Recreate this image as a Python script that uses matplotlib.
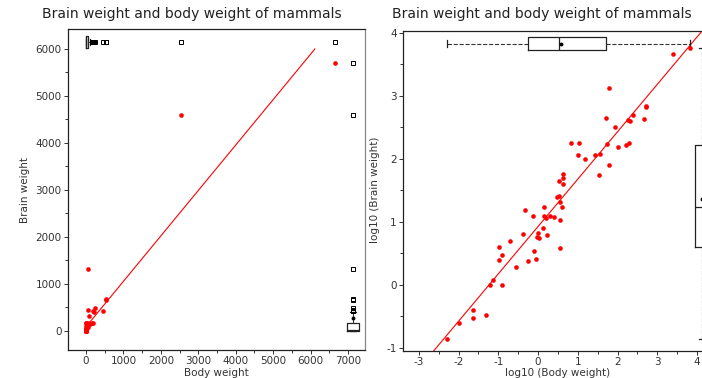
import numpy as np
import matplotlib
matplotlib.use("Agg")
import matplotlib.pyplot as plt
from matplotlib.ticker import MultipleLocator

plt.rcParams["font.family"] = ["DejaVu Sans"]
plt.rcParams["axes.unicode_minus"] = False

# Mammal body weight (kg) and brain weight (g), 62 species
species = [
    "Arctic fox", "Owl monkey", "Mountain beaver", "Cow", "Grey wolf", "Goat",
    "Roe deer", "Guinea pig", "Verbet", "Chinchilla", "Ground squirrel",
    "Arctic ground squirrel", "African giant pouched rat",
    "Lesser short-tailed shrew", "Star-nosed mole", "Nine-banded armadillo",
    "Tree hyrax", "N.A. opossum", "Asian elephant", "Big brown bat", "Donkey",
    "Horse", "European hedgehog", "Patas monkey", "Cat", "Galago", "Genet",
    "Giraffe", "Gorilla", "Grey seal", "Rock hyrax-a", "Human",
    "African elephant", "Water opossum", "Rhesus monkey", "Kangaroo",
    "Yellow-bellied marmot", "Golden hamster", "Mouse", "Little brown bat",
    "Slow loris", "Okapi", "Rabbit", "Sheep", "Jaguar", "Chimpanzee", "Baboon",
    "Desert hedgehog", "Giant armadillo", "Rock hyrax-b", "Raccoon", "Rat",
    "E. American mole", "Mole rat", "Musk shrew", "Pig", "Echidna",
    "Brazilian tapir", "Tenrec", "Phalanger", "Tree shrew", "Red fox",
]
body = np.array([
    3.385, 0.480, 1.350, 465.0, 36.33, 27.66, 14.83, 1.040, 4.190, 0.425,
    0.101, 0.920, 1.000, 0.005, 0.060, 3.500, 2.000, 1.700, 2547.0, 0.023,
    187.1, 521.0, 0.785, 10.00, 3.300, 0.200, 1.410, 529.0, 207.0, 85.00,
    0.750, 62.00, 6654.0, 3.500, 6.800, 35.00, 4.050, 0.120, 0.023, 0.010,
    1.400, 250.0, 2.500, 55.50, 100.0, 52.16, 10.55, 0.550, 60.00, 3.600,
    4.288, 0.280, 0.075, 0.122, 0.048, 192.0, 3.000, 160.0, 0.900, 1.620,
    0.104, 4.235,
])
brain = np.array([
    44.50, 15.50, 8.10, 423.0, 119.5, 115.0, 98.20, 5.50, 58.00, 6.40,
    4.00, 5.70, 6.60, 0.14, 1.00, 10.80, 12.30, 6.30, 4603.0, 0.30,
    419.0, 655.0, 3.50, 115.0, 25.60, 5.00, 17.50, 680.0, 406.0, 325.0,
    12.30, 1320.0, 5712.0, 3.90, 179.0, 56.00, 17.00, 1.00, 0.40, 0.25,
    12.50, 490.0, 12.10, 175.0, 157.0, 440.0, 179.5, 2.40, 81.00, 21.00,
    39.20, 1.90, 1.20, 3.00, 0.33, 180.0, 25.00, 169.0, 2.60, 11.40,
    2.50, 50.40,
])

title = "Brain weight and body weight of mammals"
RED = "#ff0000"
W, H = 702, 378
FS = 7.5


def box_stats(v, coef=1.5):
    """Tukey hinges and whiskers, with the mean."""
    x = np.sort(v)
    n = len(x)
    n4 = np.floor((n + 3) / 2) / 2
    d = np.array([1, n4, (n + 1) / 2, n + 1 - n4, n]) - 1
    f = 0.5 * (x[np.floor(d).astype(int)] + x[np.ceil(d).astype(int)])
    iqr = f[3] - f[1]
    lo, hi = f[1] - coef * iqr, f[3] + coef * iqr
    inside = x[(x >= lo) & (x <= hi)]
    return dict(med=f[2], q1=f[1], q3=f[3], whislo=inside.min(),
                whishi=inside.max(), fliers=x[(x < lo) | (x > hi)],
                mean=v.mean())


def marginal_box(ax, values, pos, width, orientation, whisker_ls):
    ax.bxp([box_stats(values)], positions=[pos], widths=[width],
           capwidths=[width * 0.5], orientation=orientation,
           showmeans=True, patch_artist=False, manage_ticks=False,
           boxprops=dict(color="#222222", lw=0.9),
           whiskerprops=dict(color="#333333", lw=0.8, ls=whisker_ls),
           capprops=dict(color="#222222", lw=0.9),
           medianprops=dict(color="#222222", lw=0.9),
           meanprops=dict(marker="o", markersize=1.8, markerfacecolor="black",
                          markeredgecolor="black"),
           flierprops=dict(marker="s", markersize=2.6, markerfacecolor="none",
                           markeredgecolor="black", markeredgewidth=0.7))


def style_axes(ax):
    for s in ax.spines.values():
        s.set_linewidth(0.9)
        s.set_color("#222222")
    ax.spines["right"].set_color("#888888")
    ax.tick_params(which="both", direction="out", labelsize=FS,
                   labelcolor="#333333", color="#333333", pad=1.5)
    ax.tick_params(which="major", length=3.0, width=0.7)
    ax.tick_params(which="minor", length=2.2, width=0.7)


def place_labels(ax, xlab_px, ylab_px):
    ax.xaxis.set_label_coords(xlab_px[0] / W, 1 - xlab_px[1] / H,
                              transform=fig.transFigure)
    ax.yaxis.set_label_coords(ylab_px[0] / W, 1 - ylab_px[1] / H,
                              transform=fig.transFigure)
    ax.xaxis.label.set_va("center")
    ax.yaxis.label.set_va("center")


fig = plt.figure(figsize=(W / 100, H / 100), dpi=100)

# Raw scale panel
ax1 = fig.add_axes([0.0969, 0.0741, 0.4231, 0.8492])
ax1.scatter(body, brain, s=11, color=RED, zorder=3, linewidths=0)
slope, icpt = np.polyfit(body, brain, 1)
x_top = (6000 - icpt) / slope
xs = np.array([0.0, x_top])
ax1.plot(xs, icpt + slope * xs, color=RED, lw=0.8, zorder=2)
marginal_box(ax1, body, 6150, 255, "horizontal", "-")
marginal_box(ax1, brain, 7133, 320, "vertical", "-")
ax1.set_xlim(-481, 7454)
ax1.set_ylim(-404, 6425)
ax1.xaxis.set_major_locator(MultipleLocator(1000))
ax1.xaxis.set_minor_locator(MultipleLocator(500))
ax1.yaxis.set_major_locator(MultipleLocator(1000))
ax1.yaxis.set_minor_locator(MultipleLocator(500))
ax1.set_xlabel("Body weight", fontsize=FS, color="#333333")
ax1.set_ylabel("Brain weight", fontsize=FS, color="#333333")
style_axes(ax1)
place_labels(ax1, (216, 373), (25, 190))

# Log scale panel
lb, lr = np.log10(body), np.log10(brain)
ax2 = fig.add_axes([0.5741, 0.0714, 0.4459, 0.8466])
ax2.scatter(lb, lr, s=11, color=RED, zorder=3, linewidths=0)
s2, i2 = np.polyfit(lb, lr, 1)
ax2.axline((0, i2), slope=s2, color=RED, lw=0.8, zorder=2)
marginal_box(ax2, lb, 3.83, 0.21, "horizontal", "--")
marginal_box(ax2, lr, 4.13, 0.35, "vertical", "--")
ax2.set_xlim(-3.40, 4.48)
ax2.set_ylim(-1.05, 4.03)
ax2.xaxis.set_major_locator(MultipleLocator(1))
ax2.xaxis.set_minor_locator(MultipleLocator(0.5))
ax2.yaxis.set_major_locator(MultipleLocator(1))
ax2.yaxis.set_minor_locator(MultipleLocator(0.5))
ax2.set_xlabel("log10 (Body weight)", fontsize=FS, color="#333333")
ax2.set_ylabel("log10 (Brain weight)", fontsize=FS, color="#333333")
style_axes(ax2)
place_labels(ax2, (558, 373), (375, 190))

fig.text(192 / W, 1 - 14 / H, title, ha="center", va="center",
         fontsize=10, color="#222222")
fig.text(542 / W, 1 - 14 / H, title, ha="center", va="center",
         fontsize=10, color="#222222")

fig.savefig("out.png", dpi=100)
